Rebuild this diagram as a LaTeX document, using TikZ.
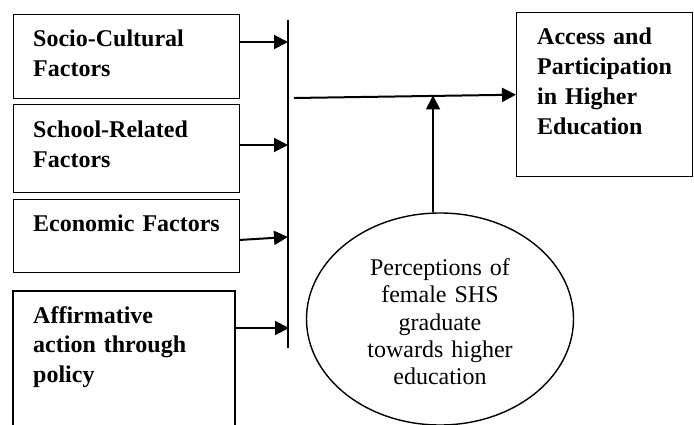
\documentclass[tikz,border=0pt]{standalone}
\usepackage{fontspec}
\setmainfont{Liberation Serif}
\usetikzlibrary{arrows.meta,shapes.geometric}
\begin{document}
\begin{tikzpicture}[x=1pt,y=-1pt,
  frame/.style={draw, line width=1.4pt, inner sep=0pt, anchor=north west},
  lbl/.style={font=\fontsize{24}{29.8}\selectfont\bfseries, text width=190pt, align=left, inner sep=0pt, anchor=base west},
  ptxt/.style={font=\fontsize{24}{27.5}\selectfont, text width=220pt, align=center, inner sep=0pt, anchor=base},
  bar/.style={line width=1.4pt},
  arr/.style={line width=2pt, -{Triangle[length=14pt,width=14pt]}},
]
\useasboundingbox (0,0) rectangle (694,425);
% factor boxes
\node[frame, minimum width=226pt, minimum height=84pt] (b1) at (13,14) {};
\node[lbl] (t1) at (33,47) {Socio-Cultural\\Factors};
\node[frame, minimum width=226pt, minimum height=88pt] (b2) at (13,104) {};
\node[lbl] (t2) at (33,138) {School-Related\\Factors};
\node[frame, minimum width=226pt, minimum height=73pt] (b3) at (13,199) {};
\node[lbl] (t3) at (33,232) {Economic Factors};
% open box at the bottom
\coordinate (b4sw) at (13,425);
\coordinate (b4nw) at (13,291);
\coordinate (b4ne) at (235,291);
\coordinate (b4se) at (235,425);
\draw[line width=1.4pt] (b4sw) -- (b4nw) -- (b4ne) -- (b4se);
\node[lbl] (t4) at (33,323) {Affirmative\\action through\\policy};
% outcome box
\node[frame, minimum width=176pt, minimum height=164pt] (out) at (516,12) {};
\node[lbl] (t5) at (537,45) {Access and\\Participation\\in Higher\\Education};
% vertical bar
\coordinate (bt) at (288,20);
\coordinate (bb) at (288,348);
\draw[bar] (bt) -- (bb);
% arrows into bar
\coordinate (j1) at (288,42);
\coordinate (j2) at (288,145);
\coordinate (s3) at (239,240);
\coordinate (j3) at (288,237);
\coordinate (j4) at (289,328);
\draw[arr] (b1.east |- j1) -- (j1);
\draw[arr] (b2.east |- j2) -- (j2);
\draw[arr] (s3) -- (j3);
\draw[arr] (b4ne |- j4) -- (j4);
% main arrow
\coordinate (m0) at (294,98);
\draw[arr] (m0) -- (out.west);
% perception ellipse
\node[draw, ellipse, line width=1.4pt, minimum width=267pt, minimum height=212pt, inner sep=0pt] (el) at (440,319) {};
\node[ptxt] (pt) at (440,275) {Perceptions of\\female SHS\\graduate\\towards higher\\education};
\coordinate (mt) at (433,95.5);
\draw[arr] (el.north -| mt) -- (mt);
\end{tikzpicture}
\end{document}
